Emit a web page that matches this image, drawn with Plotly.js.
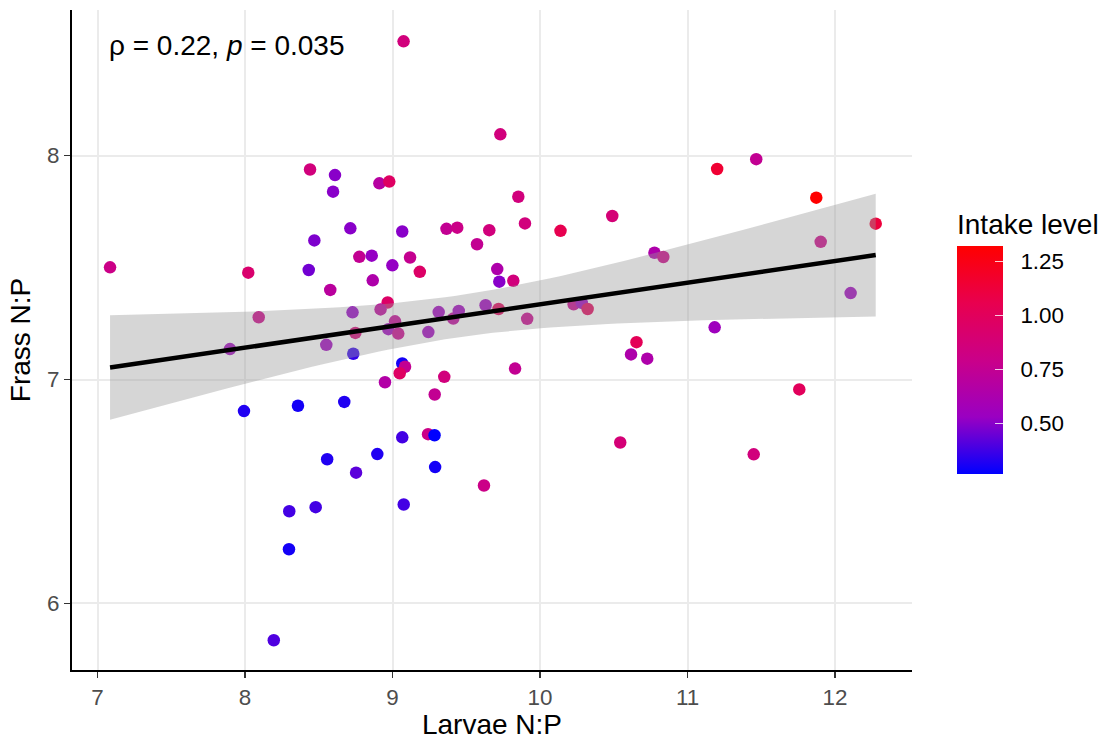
<!DOCTYPE html>
<html>
<head>
<meta charset="utf-8">
<script src="https://cdn.plot.ly/plotly-3.0.1.min.js"></script>
<style>html,body{margin:0;padding:0;background:#fff;}#chart{width:1110px;height:740px;}</style>
</head>
<body>
<div id="chart"></div>
<script>
const larvaeNP = [7.085, 8.022, 8.093, 7.898, 7.993, 8.441, 8.610, 8.597, 8.911, 8.978, 8.714, 8.470, 8.775, 8.859, 8.999, 8.432, 8.866, 8.578, 8.967, 8.729, 8.919, 9.119, 9.185, 9.017, 8.972, 9.039, 8.748, 9.243, 9.313, 9.412, 8.551, 8.734, 9.066, 9.085, 9.049, 8.949, 9.351, 9.286, 8.359, 8.673, 9.066, 9.241, 9.285, 8.557, 8.897, 9.289, 8.753, 8.300, 8.479, 9.076, 8.298, 8.195, 9.075, 9.731, 9.853, 9.066, 9.366, 9.439, 9.656, 9.898, 10.139, 9.573, 9.710, 9.724, 9.819, 9.449, 9.631, 9.719, 9.913, 11.201, 11.466, 11.873, 12.276, 10.490, 11.903, 10.776, 10.836, 12.106, 10.228, 10.283, 10.323, 11.184, 10.654, 10.617, 10.727, 11.758, 10.544, 11.449, 9.831, 9.620];
const frassNP = [7.501, 7.477, 7.278, 7.136, 6.859, 7.938, 7.913, 7.839, 7.876, 7.884, 7.675, 7.621, 7.548, 7.553, 7.510, 7.489, 7.443, 7.400, 7.344, 7.300, 7.313, 7.545, 7.481, 7.260, 7.225, 7.205, 7.208, 7.212, 7.301, 7.272, 7.155, 7.115, 7.072, 7.057, 7.028, 6.988, 7.012, 6.933, 6.883, 6.900, 6.742, 6.756, 6.751, 6.644, 6.667, 6.609, 6.584, 6.412, 6.430, 6.442, 6.242, 5.836, 8.510, 8.095, 7.816, 7.661, 7.673, 7.678, 7.667, 7.697, 7.664, 7.604, 7.493, 7.437, 7.441, 7.306, 7.332, 7.315, 7.271, 7.940, 7.984, 7.812, 7.696, 7.730, 7.615, 7.566, 7.547, 7.386, 7.336, 7.342, 7.315, 7.233, 7.167, 7.112, 7.093, 6.956, 6.719, 6.666, 7.049, 6.527];
const intake = [0.80, 0.92, 0.80, 0.55, 0.32, 0.85, 0.50, 0.50, 0.68, 0.97, 0.50, 0.48, 0.75, 0.52, 0.52, 0.46, 0.64, 0.70, 0.95, 0.52, 0.72, 0.76, 0.95, 0.75, 0.55, 0.78, 0.88, 0.55, 0.55, 0.72, 0.55, 0.35, 0.30, 0.75, 0.97, 0.66, 0.85, 0.75, 0.30, 0.32, 0.38, 0.80, 0.265, 0.32, 0.32, 0.30, 0.42, 0.38, 0.38, 0.38, 0.30, 0.40, 0.85, 0.85, 0.85, 0.50, 0.75, 0.80, 0.85, 0.85, 1.05, 0.75, 0.64, 0.50, 0.85, 0.55, 0.55, 1.00, 0.78, 1.15, 0.75, 1.32, 1.12, 0.88, 0.80, 0.64, 0.80, 0.55, 0.78, 0.55, 1.00, 0.55, 1.02, 0.64, 0.64, 1.00, 0.88, 0.85, 0.75, 0.80];
const xTicks = [7, 8, 9, 10, 11, 12];
const yTicks = [6, 7, 8];
const cbTicks = [0.50, 0.75, 1.00, 1.25];
const cbTickText = ['0.50', '0.75', '1.00', '1.25'];
const statLabel = 'ρ = 0.22, <i>p</i> = 0.035';

// linear fit with 95% confidence band (as geom_smooth(method = "lm"))
const n = larvaeNP.length;
const xbar = larvaeNP.reduce((a, b) => a + b, 0) / n;
const ybar = frassNP.reduce((a, b) => a + b, 0) / n;
let sxx = 0, sxy = 0;
for (let i = 0; i < n; i++) { sxx += (larvaeNP[i] - xbar) ** 2; sxy += (larvaeNP[i] - xbar) * (frassNP[i] - ybar); }
const slope = sxy / sxx, icpt = ybar - slope * xbar;
let sse = 0;
for (let i = 0; i < n; i++) { sse += (frassNP[i] - icpt - slope * larvaeNP[i]) ** 2; }
const s = Math.sqrt(sse / (n - 2));
const tq = 1.987;
const xmin = Math.min(...larvaeNP), xmax = Math.max(...larvaeNP);
const fx = [], fy = [], lo = [], hi = [];
for (let k = 0; k <= 80; k++) {
  const xv = xmin + (xmax - xmin) * k / 80;
  const yv = icpt + slope * xv;
  const se = s * Math.sqrt(1 / n + (xv - xbar) ** 2 / sxx);
  fx.push(xv); fy.push(yv); lo.push(yv - tq * se); hi.push(yv + tq * se);
}

const colorscale = [
  [0, 'rgb(0,0,255)'], [0.25, 'rgb(154,0,194)'], [0.5, 'rgb(202,0,137)'],
  [0.75, 'rgb(232,0,79)'], [1, 'rgb(255,0,0)']
];

const FF = 'Liberation Sans, Arial, sans-serif';
const pts = {
  type: 'scatter', mode: 'markers', x: larvaeNP, y: frassNP, showlegend: false, hoverinfo: 'x+y',
  marker: {
    size: 12.5, color: intake, colorscale: colorscale,
    cmin: Math.min(...intake), cmax: Math.max(...intake), line: {width: 0},
    colorbar: {
      title: {text: 'Intake level', side: 'top', font: {family: FF, size: 28, color: '#000'}},
      thickness: 46, thicknessmode: 'pixels', len: 264, lenmode: 'pixels',
      x: 1.0536, xanchor: 'left', y: 0.697, yanchor: 'top', xpad: 0, ypad: 0,
      outlinewidth: 0, tickvals: cbTicks, ticktext: cbTickText.map(t => '\u00A0\u00A0' + t),
      ticks: 'inside', ticklen: 8, tickcolor: 'rgba(255,255,255,0.8)', tickwidth: 1,
      tickfont: {family: FF, size: 22.4, color: '#000'}
    }
  }
};
const band = {
  type: 'scatter', mode: 'lines', x: fx.concat(fx.slice().reverse()), y: hi.concat(lo.slice().reverse()),
  fill: 'toself', fillcolor: 'rgba(153,153,153,0.4)', line: {width: 0}, hoverinfo: 'skip', showlegend: false
};
const fit = {
  type: 'scatter', mode: 'lines', x: fx, y: fy, line: {color: '#000', width: 4.5}, hoverinfo: 'skip', showlegend: false
};

const layout = {
  width: 1110, height: 740, paper_bgcolor: '#fff', plot_bgcolor: '#fff',
  margin: {l: 72, r: 198, t: 10, b: 70}, font: {family: FF},
  xaxis: {
    range: [6.827, 12.522], tickvals: xTicks, ticktext: xTicks.map(String),
    showgrid: true, gridcolor: '#EBEBEB', gridwidth: 2, zeroline: false,
    showline: true, linecolor: '#000', linewidth: 2, ticks: 'outside', ticklen: 6, tickwidth: 1.5, tickcolor: '#333',
    tickfont: {size: 22.4, color: '#4D4D4D'},
    title: {text: 'Larvae N:P', font: {size: 28, color: '#000'}, standoff: 6}
  },
  yaxis: {
    range: [5.703, 8.650], tickvals: yTicks, ticktext: yTicks.map(String),
    showgrid: true, gridcolor: '#EBEBEB', gridwidth: 2, zeroline: false,
    showline: true, linecolor: '#000', linewidth: 2, ticks: 'outside', ticklen: 6, tickwidth: 1.5, tickcolor: '#333',
    tickfont: {size: 22.4, color: '#4D4D4D'},
    title: {text: 'Frass N:P', font: {size: 28, color: '#000'}, standoff: 8}
  },
  annotations: [{
    text: statLabel, xref: 'x', yref: 'y', x: 7.065, y: 8.493, xanchor: 'left', yanchor: 'middle',
    showarrow: false, font: {size: 28, color: '#000'}
  }]
};
Plotly.newPlot('chart', [pts, band, fit], layout, {displayModeBar: false, staticPlot: true});
</script>
</body>
</html>
